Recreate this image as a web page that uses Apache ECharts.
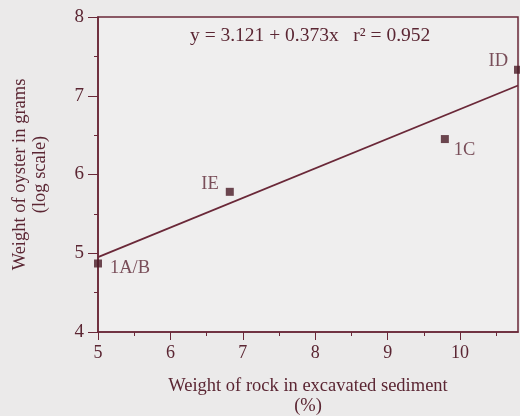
<!DOCTYPE html>
<html><head><meta charset="utf-8">
<script src="https://cdn.jsdelivr.net/npm/echarts@6/dist/echarts.min.js"></script>
<style>html,body{margin:0;padding:0;background:#ebeaea;}#c{width:520px;height:416px;}</style>
</head><body><div id="c"></div>
<script>
const siteNames = ['1A/B', 'IE', '1C', 'ID'];
const rockPct = [5.0, 6.82, 9.79, 10.8];
const oysterLogWt = [4.87, 5.78, 6.45, 7.33];
const fitX = [5.0, 10.8];
const fitY = [4.95, 7.13];
const xTicks = [5, 6, 7, 8, 9, 10];
const yTicks = [4, 5, 6, 7, 8];

const ink = '#6a2838';
const txt = '#5b2633';
const font = 'Liberation Serif';
const labelPos = {
  '1A/B': {position: 'right', offset: [3, 5]},
  'IE': {position: 'left', offset: [-2, -8]},
  '1C': {position: 'right', offset: [0, 11]},
  'ID': {position: 'left', offset: [-1, -9]}
};

const chart = echarts.init(document.getElementById('c'));
chart.setOption({
  backgroundColor: '#ebeaea',
  animation: false,
  grid: {left: 98, right: 2, top: 17, bottom: 84, show: true, borderColor: ink, borderWidth: 1.5, backgroundColor: '#efeeee', containLabel: false, outerBoundsMode: 'none'},
  xAxis: {
    type: 'value', min: 5, max: 10.8, interval: 1,
    name: 'Weight of rock in excavated sediment\n(%)', nameLocation: 'middle', nameGap: 44,
    nameTextStyle: {fontFamily: font, fontSize: 18.5, color: txt, lineHeight: 20},
    axisLine: {show: true, lineStyle: {color: ink, width: 1.6}},
    axisTick: {show: true, inside: false, length: 8, lineStyle: {color: ink}, customValues: xTicks},
    minorTick: {show: true, splitNumber: 2, length: 4, lineStyle: {color: ink}},
    axisLabel: {fontFamily: font, fontSize: 18, color: txt, margin: 12, customValues: xTicks},
    splitLine: {show: false}
  },
  yAxis: {
    type: 'value', min: 4, max: 8, interval: 1,
    name: 'Weight of oyster in grams\n(log scale)', nameLocation: 'middle', nameGap: 48, nameRotate: 90,
    nameTextStyle: {fontFamily: font, fontSize: 18.5, color: txt, lineHeight: 20},
    axisLine: {show: true, lineStyle: {color: ink, width: 1.6}},
    axisTick: {show: true, inside: false, length: 10, lineStyle: {color: ink}},
    minorTick: {show: true, splitNumber: 2, length: 4, lineStyle: {color: ink}},
    axisLabel: {fontFamily: font, fontSize: 19, color: txt, margin: 14},
    splitLine: {show: false}
  },
  graphic: [{
    type: 'text', left: 190, top: 26,
    style: {text: 'y = 3.121 + 0.373x   r² = 0.952', fontFamily: font, fontSize: 19.5, fill: txt}
  }],
  series: [
    {
      type: 'line', data: fitX.map((x, i) => [x, fitY[i]]), symbol: 'none',
      lineStyle: {color: ink, width: 1.8}, z: 2
    },
    {
      type: 'scatter', symbol: 'rect', symbolSize: 8, clip: false,
      itemStyle: {color: '#4a1a26'},
      data: siteNames.map((n, i) => ({
        value: [rockPct[i], oysterLogWt[i]], name: n,
        label: Object.assign({show: true, formatter: n, fontFamily: font, fontSize: 18.5, color: txt}, labelPos[n])
      })),
      z: 3
    }
  ]
});
</script></body></html>
